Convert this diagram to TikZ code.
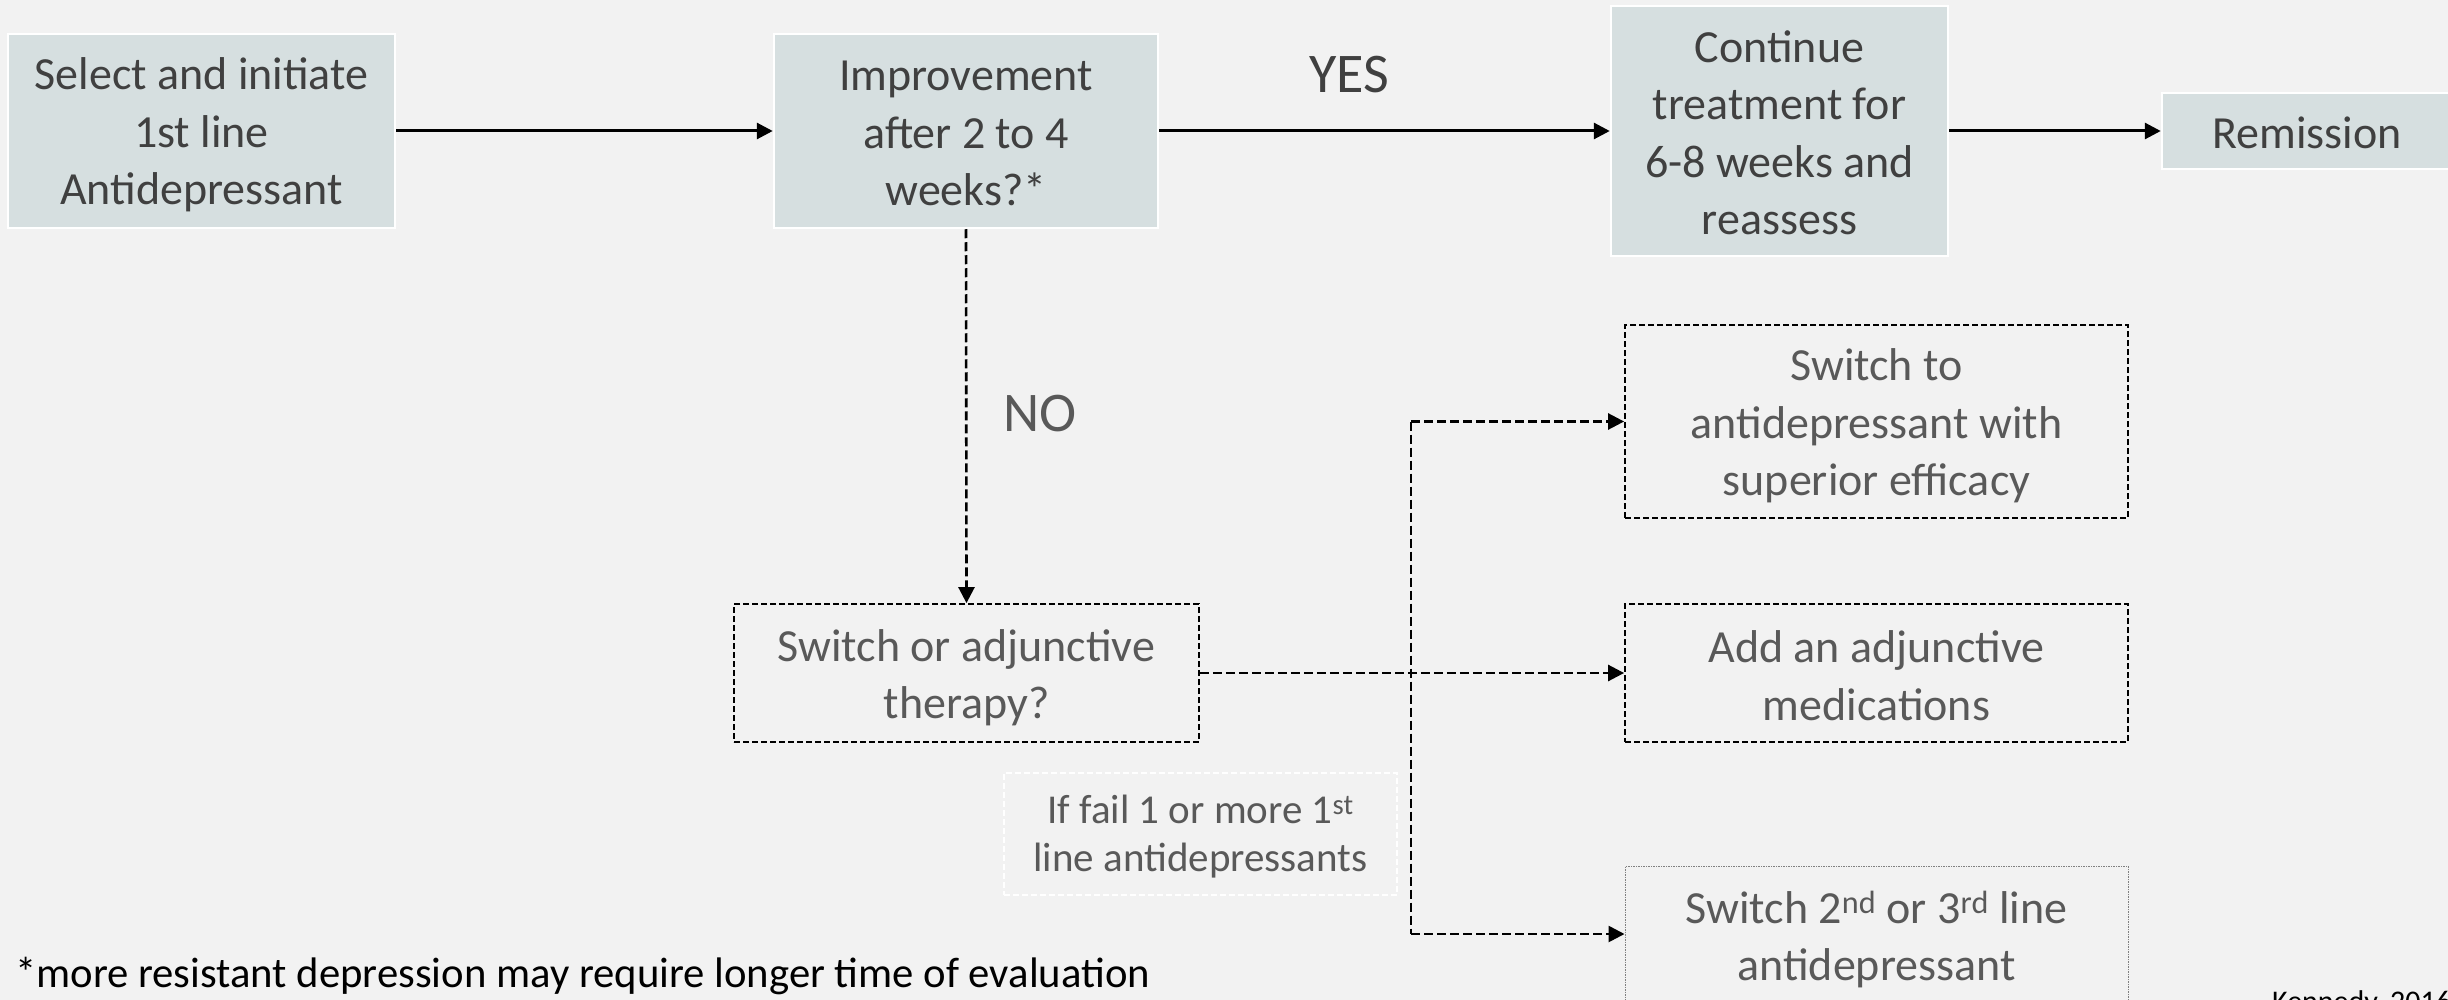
\documentclass[tikz,border=0pt]{standalone}
\usepackage{fontspec}
\setmainfont{Carlito}
\usetikzlibrary{arrows.meta}
\definecolor{bg}{HTML}{F2F2F2}
\definecolor{boxfill}{HTML}{D6DFE0}
\definecolor{dtext}{HTML}{404040}
\definecolor{mtext}{HTML}{595959}
\tikzset{
  solidbox/.style={draw=white, line width=2.5pt, fill=boxfill, inner sep=0pt},
  dashbox/.style={draw=black, line width=1.8pt, dash pattern=on 6pt off 3pt, inner sep=0pt},
  graybox/.style={draw=gray, line width=1pt, dash pattern=on 1.5pt off 1pt, inner sep=0pt},
  notebox/.style={draw=white, line width=1.8pt, dash pattern=on 6pt off 3pt, inner sep=0pt},
  dtxt/.style={text=dtext, align=center, inner sep=0pt, font=\fontsize{46}{57.5}\selectfont},
  mtxt/.style={text=mtext, align=center, inner sep=0pt, font=\fontsize{46}{57.5}\selectfont},
  ntxt/.style={text=mtext, align=center, inner sep=0pt, font=\fontsize{41}{48}\selectfont},
  solidcon/.style={draw=black, line width=3pt, -{Triangle[length=16pt,width=16pt]}},
  dashcon/.style={draw=black, line width=2.6pt, dash pattern=on 9pt off 4pt, -{Triangle[length=16pt,width=16pt]}},
  dashline/.style={draw=black, line width=2.6pt, dash pattern=on 9pt off 4pt},
  lbl/.style={font=\fontsize{56}{64}\selectfont, inner sep=0pt}
}
\begin{document}
\begin{tikzpicture}[x=1pt,y=-1pt]
\useasboundingbox[fill=bg] (0,0) rectangle (2448,1000);
% boxes
\node[solidbox, minimum width=387pt, minimum height=194pt] (b1) at (201.5,131) {};
\node[solidbox, minimum width=384pt, minimum height=194pt] (b2) at (966,131) {};
\node[solidbox, minimum width=337pt, minimum height=250pt] (b3) at (1779.5,131) {};
\node[solidbox, minimum width=290pt, minimum height=76pt] (b4) at (2307,131) {};
\node[dashbox, minimum width=465pt, minimum height=138pt] (b5) at (966.5,673) {};
\node[dashbox, minimum width=503pt, minimum height=193pt] (b6) at (1876.5,421.5) {};
\node[dashbox, minimum width=503pt, minimum height=138pt] (b7) at (1876.5,673) {};
\node[graybox, minimum width=503pt, minimum height=136pt] (b8) at (1876.5,934) {};
\node[notebox, minimum width=393pt, minimum height=122pt] (note) at (1200.5,834) {};
% texts
\node[dtxt, yshift=-4pt] (t1) at (b1.center) {Select and initiate\\1st line\\Antidepressant};
\node[dtxt, yshift=-2.5pt] (t2) at (b2.center) {Improvement\\after 2 to 4\\weeks?*};
\node[dtxt, yshift=-2pt] (t3) at (b3.center) {Continue\\treatment for\\6-8 weeks and\\reassess};
\node[dtxt, yshift=-1.5pt] (t4) at (b4.center) {Remission};
\node[mtxt, yshift=-4.5pt] (t5) at (b5.center) {Switch or adjunctive\\therapy?};
\node[mtxt, yshift=-4.5pt] (t6) at (b6.center) {Switch to\\antidepressant with\\superior efficacy};
\node[mtxt, yshift=-2.5pt] (t7) at (b7.center) {Add an adjunctive\\medications};
\node[mtxt, yshift=-5.5pt] (t8) at (b8.center) {Switch 2\textsuperscript{nd} or 3\textsuperscript{rd} line\\antidepressant};
\node[ntxt, yshift=-3pt] (tn) at (note.center) {If fail 1 or more 1\textsuperscript{st}\\line antidepressants};
\node[lbl, text=dtext] (yes) at (1349,75) {YES};
\node[lbl, text=mtext] (no) at (1040,414) {NO};
\node[font=\fontsize{42.7}{52}\selectfont, text=black, anchor=west, inner sep=0pt] (foot) at (15,976) {*more resistant depression may require longer time of evaluation};
\node[font=\fontsize{30}{36}\selectfont, text=black, anchor=north west, inner sep=0pt] (ref) at (2272,990) {Kennedy, 2016};
% connectors
\coordinate (jt) at (1411,421.5);
\coordinate (jb) at (1411,934);
\draw[solidcon] (b1.east) -- (b2.west);
\draw[solidcon] (b2.east) -- (b3.west);
\draw[solidcon] (b3.east) -- (b4.west);
\draw[dashcon] (b2.south) -- (b5.north);
\draw[dashcon] (b5.east) -- (b7.west);
\draw[dashcon] (jt) -- (b6.west);
\draw[dashline] (jt) -- (jb);
\draw[dashcon] (jb) -- (b8.west);
\end{tikzpicture}
\end{document}
